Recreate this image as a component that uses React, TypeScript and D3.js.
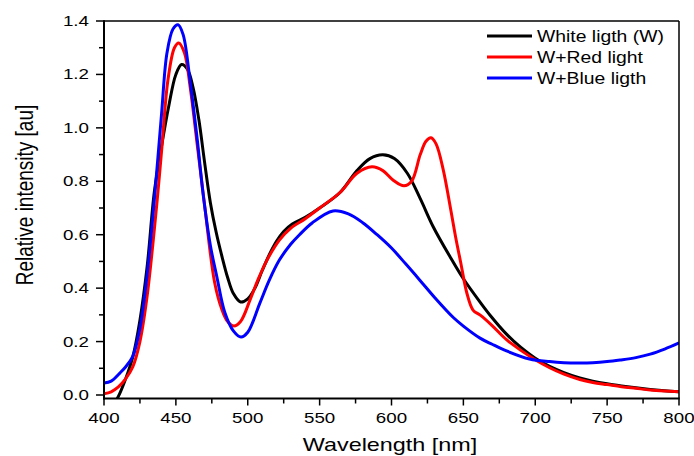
import React from "react";
import * as d3 from "d3";

const whiteX = [405, 410, 415, 420, 425, 430, 435, 440, 445, 450, 454, 458, 462, 466, 470, 474, 478, 482, 486, 490, 495, 500, 505, 510, 515, 520, 525, 531, 540, 550, 564, 576, 585, 594, 602, 611, 620, 629, 641, 650, 662, 669, 680, 690, 700, 710, 720, 731, 740, 750, 760, 770, 780, 790, 800];
const whiteY = [-0.05, -0.005, 0.06, 0.142, 0.28, 0.48, 0.76, 0.93, 1.08, 1.2, 1.237, 1.22, 1.15, 1.03, 0.87, 0.72, 0.61, 0.52, 0.44, 0.38, 0.348, 0.36, 0.4, 0.465, 0.525, 0.575, 0.612, 0.64, 0.665, 0.7, 0.757, 0.84, 0.885, 0.899, 0.885, 0.83, 0.735, 0.63, 0.515, 0.435, 0.345, 0.296, 0.228, 0.178, 0.138, 0.107, 0.084, 0.064, 0.052, 0.042, 0.034, 0.027, 0.021, 0.016, 0.012];

const redX = [400, 405, 410, 415, 420, 425, 430, 437, 440, 444.5, 449, 452, 456, 460, 465, 470, 477, 482, 486, 490.4, 495, 501.6, 507, 513.4, 522, 530, 540, 550, 564, 576, 586.4, 594, 601, 608.7, 614, 620, 624, 627.5, 631, 636, 641, 645, 648, 652.5, 656.7, 662, 670, 680, 690, 700, 710, 720, 731, 740, 750, 760, 770, 780, 790, 800];
const redY = [0.005, 0.012, 0.03, 0.06, 0.105, 0.2, 0.37, 0.73, 0.91, 1.18, 1.3, 1.318, 1.28, 1.15, 0.93, 0.71, 0.42, 0.32, 0.275, 0.258, 0.275, 0.356, 0.43, 0.505, 0.58, 0.625, 0.66, 0.7, 0.757, 0.83, 0.854, 0.84, 0.805, 0.783, 0.8, 0.9, 0.95, 0.963, 0.94, 0.843, 0.7, 0.58, 0.5, 0.38, 0.318, 0.298, 0.26, 0.207, 0.167, 0.132, 0.102, 0.078, 0.058, 0.047, 0.039, 0.031, 0.025, 0.019, 0.015, 0.012];

const blueX = [400, 405, 411, 415, 420, 425, 430, 435, 440, 443.8, 448, 451.5, 455, 460, 465, 469, 474, 478.6, 484, 490, 495.3, 500, 508.5, 515, 522, 530, 536, 545, 559.3, 570, 580, 590, 600, 610, 620, 630, 643, 650, 661.6, 670, 680, 696, 710, 720, 731, 740, 750, 759, 770, 780, 790, 800];
const blueY = [0.045, 0.052, 0.082, 0.105, 0.145, 0.25, 0.45, 0.73, 1.05, 1.28, 1.37, 1.386, 1.35, 1.17, 0.95, 0.75, 0.56, 0.44, 0.31, 0.24, 0.217, 0.235, 0.345, 0.43, 0.505, 0.565, 0.6, 0.645, 0.689, 0.678, 0.645, 0.6, 0.55, 0.49, 0.428, 0.365, 0.29, 0.258, 0.213, 0.19, 0.165, 0.135, 0.125, 0.121, 0.12, 0.121, 0.125, 0.131, 0.14, 0.153, 0.172, 0.195];

const seriesNames = ["White ligth (W)", "W+Red light", "W+Blue ligth"];
const seriesColors = ["#000000", "#ff0000", "#0000ff"];
const xTicks = [400, 450, 500, 550, 600, 650, 700, 750, 800];
const xMinor = [425, 475, 525, 575, 625, 675, 725, 775];
const yTicks = [0.0, 0.2, 0.4, 0.6, 0.8, 1.0, 1.2, 1.4];
const yMinor = [0.1, 0.3, 0.5, 0.7, 0.9, 1.1, 1.3];

const W = 694;
const H = 456;
const left = 104;
const right = 679;
const top = 21;
const bottom = 398.5;

export default function App() {
  const x = d3.scaleLinear().domain([400, 800]).range([left, right]);
  const y = d3.scaleLinear().domain([0, 1.4]).range([395, top]);
  const line = d3
    .line<[number, number]>()
    .x((d) => x(d[0]))
    .y((d) => y(d[1]))
    .curve(d3.curveCatmullRom.alpha(0.5));

  const series = [
    whiteX.map((v, i) => [v, whiteY[i]] as [number, number]),
    redX.map((v, i) => [v, redY[i]] as [number, number]),
    blueX.map((v, i) => [v, blueY[i]] as [number, number]),
  ];

  const font = "'Liberation Sans', Arial, sans-serif";
  const sx = 1.25;

  return (
    <svg
      width={W}
      height={H}
      style={{ position: "absolute", left: 0, top: 0, background: "#fff" }}
    >
      <defs>
        <clipPath id="plot">
          <rect x={left} y={top} width={right - left} height={bottom - top} />
        </clipPath>
      </defs>
      <rect x={0} y={0} width={W} height={H} fill="#fff" />
      <g clipPath="url(#plot)">
        {series.map((s, i) => (
          <path
            key={i}
            d={line(s) || ""}
            fill="none"
            stroke={seriesColors[i]}
            strokeWidth={3}
            strokeLinejoin="round"
          />
        ))}
      </g>
      {/* frame */}
      <line x1={left} x2={right} y1={top} y2={top} stroke="#000" strokeWidth={1.5} />
      <line x1={right} x2={right} y1={top} y2={bottom} stroke="#000" strokeWidth={1.5} />
      <line x1={left} x2={left} y1={top - 0.75} y2={bottom + 1} stroke="#000" strokeWidth={2} />
      <line x1={left - 1} x2={right + 0.75} y1={bottom} y2={bottom} stroke="#000" strokeWidth={2} />
      {/* y ticks */}
      {yTicks.map((t) => (
        <g key={"y" + t}>
          <line x1={left - 8} x2={left} y1={y(t)} y2={y(t)} stroke="#000" strokeWidth={1.5} />
          <text
            transform={`translate(89,${y(t) + 5}) scale(${sx},1)`}
            textAnchor="end"
            fontFamily={font}
            fontSize={15}
            fill="#000"
          >
            {t.toFixed(1)}
          </text>
        </g>
      ))}
      {yMinor.map((t) => (
        <line key={"ym" + t} x1={left - 5} x2={left} y1={y(t)} y2={y(t)} stroke="#000" strokeWidth={1.5} />
      ))}
      {/* x ticks */}
      {xTicks.map((t) => (
        <g key={"x" + t}>
          <line x1={x(t)} x2={x(t)} y1={bottom} y2={bottom + 7} stroke="#000" strokeWidth={1.5} />
          <text
            transform={`translate(${x(t)},423) scale(${sx},1)`}
            textAnchor="middle"
            fontFamily={font}
            fontSize={15}
            fill="#000"
          >
            {t}
          </text>
        </g>
      ))}
      {xMinor.map((t) => (
        <line key={"xm" + t} x1={x(t)} x2={x(t)} y1={bottom} y2={bottom + 5} stroke="#000" strokeWidth={1.5} />
      ))}
      {/* axis titles */}
      <text
        transform={`translate(390,451) scale(1.23,1)`}
        textAnchor="middle"
        fontFamily={font}
        fontSize={19}
        fill="#000"
      >
        Wavelength [nm]
      </text>
      <text
        transform={`translate(33,195) scale(1.23,1) rotate(-90)`}
        textAnchor="middle"
        fontFamily={font}
        fontSize={19}
        fill="#000"
      >
        Relative intensity [au]
      </text>
      {/* legend */}
      {seriesNames.map((n, i) => (
        <g key={n}>
          <line
            x1={487}
            x2={532}
            y1={36 + i * 21}
            y2={36 + i * 21}
            stroke={seriesColors[i]}
            strokeWidth={3}
          />
          <text
            transform={`translate(537,${36 + i * 21 + 5.5}) scale(1.21,1)`}
            fontFamily={font}
            fontSize={16}
            fill="#000"
          >
            {n}
          </text>
        </g>
      ))}
    </svg>
  );
}
